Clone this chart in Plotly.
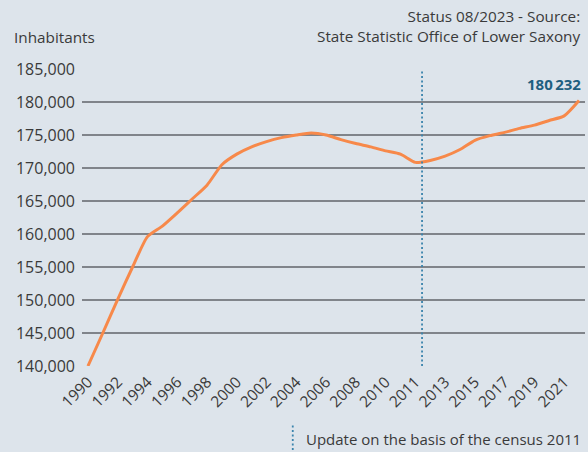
import plotly.graph_objects as go

# Data (2011 appears twice: before and after the census-based update)
years = ["1990", "1991", "1992", "1993", "1994", "1995", "1996", "1997", "1998", "1999",
         "2000", "2001", "2002", "2003", "2004", "2005", "2006", "2007", "2008", "2009",
         "2010", "2011", "2011", "2012", "2013", "2014", "2015", "2016", "2017", "2018",
         "2019", "2020", "2021", "2022"]
inhabitants = [140000, 145000, 150100, 155000, 159600, 161200, 163200, 165300, 167400, 170500,
               172100, 173200, 174000, 174600, 175000, 175300, 175000, 174300, 173700, 173200,
               172600, 172100, 170850, 171150, 171800, 172800, 174200, 174900, 175400, 176000,
               176500, 177200, 177900, 180232]
y_ticks = [140000, 145000, 150000, 155000, 160000, 165000, 170000, 175000, 180000, 185000]
census_index = 22.45

x_pos = list(range(len(years)))
tick_vals = x_pos[::2]
tick_text = years[::2]

BG = "#dde4eb"
FONT = "'Open Sans', 'Noto Sans', sans-serif"
TXT = "#3a3a3a"
DOT = "#3a84ad"

fig = go.Figure()
fig.add_trace(go.Scatter(
    x=x_pos, y=inhabitants, mode="lines",
    line=dict(color="#f7894a", width=3, shape="spline", smoothing=0.6),
    hoverinfo="skip", showlegend=False,
))

fig.add_shape(type="line", xref="x", yref="y",
              x0=census_index, x1=census_index, y0=140000, y1=185000,
              line=dict(color=DOT, width=1.8, dash="2px,2.5px"))

last = inhabitants[-1]
fig.add_annotation(x=x_pos[-1], y=last, xref="x", yref="y",
                   text="<b>" + f"{last:,}".replace(",", "\u2009") + "</b>",
                   showarrow=False, xanchor="right", yanchor="bottom",
                   xshift=4, yshift=4,
                   font=dict(family=FONT, size=15, color="#1e5f80"))

fig.add_annotation(x=0, y=1, xref="paper", yref="paper",
                   text="Inhabitants", showarrow=False,
                   xanchor="left", yanchor="bottom", xshift=-70, yshift=20,
                   font=dict(family=FONT, size=15.3, color=TXT))
fig.add_annotation(x=1, y=1, xref="paper", yref="paper",
                   text="Status 08/2023 - Source:<br>State Statistic Office of Lower Saxony",
                   showarrow=False, align="right",
                   xanchor="right", yanchor="bottom", xshift=-2, yshift=21,
                   font=dict(family=FONT, size=15.3, color=TXT))

# legend for the census line
fig.add_shape(type="line", xref="paper", yref="paper",
              x0=0.419, x1=0.419, y0=-0.20, y1=-0.29,
              line=dict(color=DOT, width=1.8, dash="2px,2.5px"))
fig.add_annotation(x=1, y=-0.245, xref="paper", yref="paper",
                   text="Update on the basis of the census 2011", showarrow=False,
                   xanchor="right", yanchor="middle", xshift=-2,
                   font=dict(family=FONT, size=15, color=TXT))

fig.update_layout(
    width=588, height=452,
    paper_bgcolor=BG, plot_bgcolor=BG,
    margin=dict(l=82, r=3, t=69, b=86),
    font=dict(family=FONT, color=TXT),
    showlegend=False,
)
fig.update_xaxes(
    range=[-0.4, len(years) - 1 + 0.4],
    tickmode="array", tickvals=tick_vals, ticktext=tick_text,
    tickangle=-45, tickfont=dict(size=15.5, color=TXT),
    showgrid=False, zeroline=False, showline=False, ticks="",
    ticklabelstandoff=3,
)
fig.update_yaxes(
    range=[140000, 185000],
    tickmode="array", tickvals=y_ticks,
    tickformat=",", tickfont=dict(size=16, color=TXT),
    showgrid=True, gridcolor="#80848a", gridwidth=1.5,
    zeroline=False, showline=False, ticks="", ticklabelstandoff=6,
)

fig.write_html("out.html",
               config={"displayModeBar": False, "staticPlot": True},
               post_script="document.body.style.margin='0';"
                           "document.body.style.overflow='hidden';"
                           "document.body.style.background='" + BG + "';")
